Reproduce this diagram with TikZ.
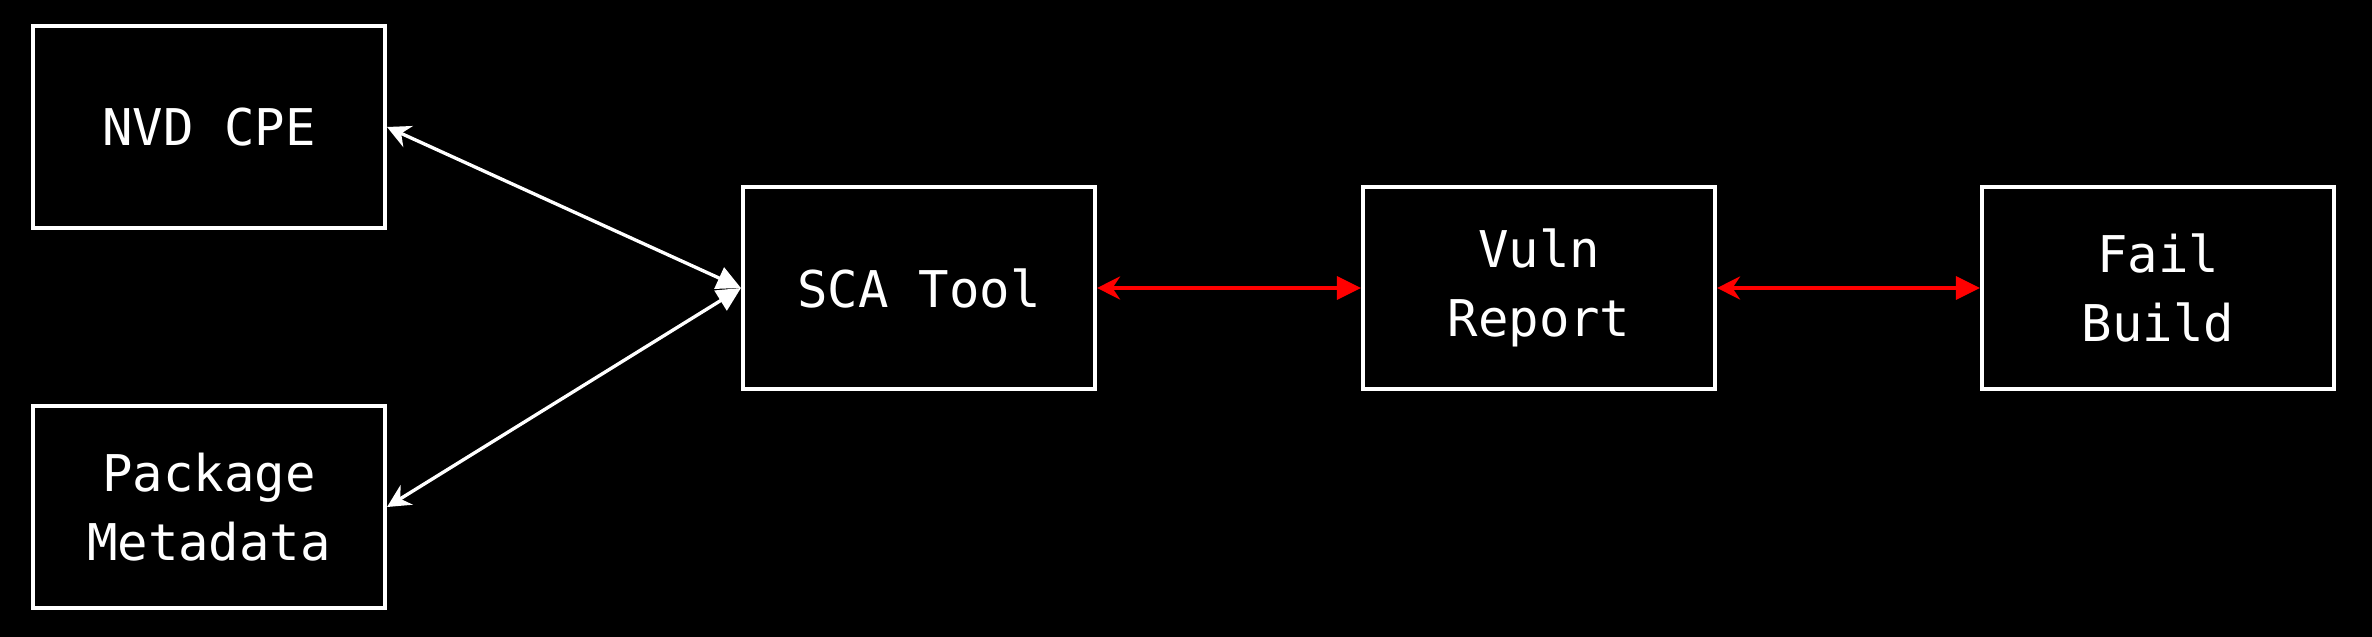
\documentclass[tikz,border=0pt]{standalone}
\usepackage{fontspec}
\setmonofont{DejaVu Sans Mono}
\usetikzlibrary{arrows.meta}
\begin{document}
\begin{tikzpicture}[x=0.01cm,y=-0.01cm,
  box/.style={draw=white, line width=1.1pt, fill=black, minimum width=3.52cm, minimum height=2.02cm,
    inner sep=0pt, text=white, align=center, font=\ttfamily\fontsize{14.4}{19.6}\selectfont},
  link/.style={line width=0.95pt, {Stealth[length=0.23cm,width=0.23cm]}-{Triangle[length=0.24cm,width=0.23cm]}},
  wlink/.style={link, draw=white, fill=white},
  rlink/.style={link, draw=red, fill=red}
]
\fill[black] (0,0) rectangle (2372,637);
\useasboundingbox (0,0) rectangle (2372,637);
\node[box] (nvd) at (209,127) {NVD CPE};
\node[box] (pkg) at (209,507) {Package\\Metadata};
\node[box] (sca) at (919,288) {SCA Tool};
\node[box] (vuln) at (1539,288) {Vuln\\Report};
\node[box] (fail) at (2158,288) {Fail\\Build};
\draw[wlink] (nvd.east) -- (sca.west);
\draw[wlink] (pkg.east) -- (sca.west);
\draw[rlink] (sca.east) -- (vuln.west);
\draw[rlink] (vuln.east) -- (fail.west);
\end{tikzpicture}
\end{document}
